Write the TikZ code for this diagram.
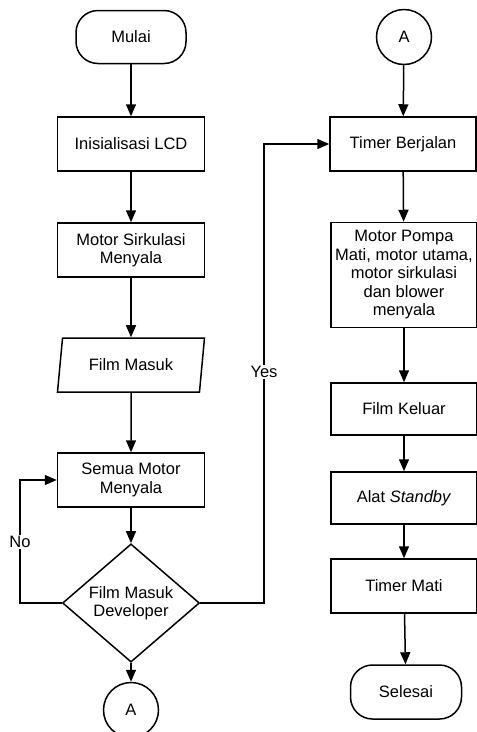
\documentclass[tikz,border=0pt]{standalone}
\usepackage{fontspec}
\setmainfont{Liberation Sans}
\usetikzlibrary{arrows.meta,shapes.geometric}

\begin{document}
\begin{tikzpicture}[x=1pt,y=-1pt,line width=1.5pt,
  font=\fontsize{16.5}{18.5}\selectfont,
  proc/.style={draw,rectangle,minimum width=147pt,minimum height=54pt,align=center,inner sep=2pt},
  term/.style={draw,rectangle,rounded corners=22pt,minimum width=110pt,minimum height=53pt},
  conn/.style={draw,circle,minimum size=55pt,inner sep=0pt},
  io/.style={draw,trapezium,trapezium left angle=75,trapezium right angle=105,
    trapezium stretches body,minimum width=147pt,minimum height=54pt},
  dec/.style={draw,diamond,minimum width=137pt,minimum height=87pt,inner sep=0pt,align=center},
  flow/.style={-{Triangle[length=12pt,width=10pt]}},
  lbl/.style={fill=white,inner sep=1pt}]
  \useasboundingbox (0,0) rectangle (477,732);
  % Left column
  \node[term] (mulai) at (131,37) {Mulai};
  \node[proc] (lcd) at (131,144) {Inisialisasi LCD};
  \node[proc] (sirk) at (131,250) {Motor Sirkulasi\\Menyala};
  \node[io] (masuk) at (131,365) {Film Masuk};
  \node[proc] (semua) at (131,480) {Semua Motor\\Menyala};
  \node[dec] (dev) at (131,603) {Film Masuk\\Developer};
  \node[conn] (conA) at (131,710) {A};
  % Right column
  \node[conn] (conB) at (404,37) {A};
  \node[proc,minimum width=146pt] (timer) at (403,144) {Timer Berjalan};
  \node[proc,minimum width=146pt,minimum height=105pt] (pompa) at (404,275)
    {Motor Pompa\\Mati, motor utama,\\motor sirkulasi\\dan blower\\menyala};
  \node[proc,minimum width=146pt,minimum height=52pt] (keluar) at (404,409) {Film Keluar};
  \node[proc,minimum width=146pt,minimum height=52pt] (standby) at (404,498) {Alat \textit{Standby}};
  \node[proc,minimum width=146pt] (mati) at (404,586) {Timer Mati};
  \node[term,minimum width=111pt,minimum height=54pt] (selesai) at (406,692) {Selesai};
  % Straight connectors
  \draw[flow] (mulai) -- (lcd);
  \draw[flow] (lcd) -- (sirk);
  \draw[flow] (sirk) -- (masuk);
  \draw[flow] (masuk) -- (semua);
  \draw[flow] (semua) -- (dev);
  \draw[flow] (dev) -- (conA);
  \draw[flow] (conB) -- (timer);
  \draw[flow] (timer) -- (pompa);
  \draw[flow] (pompa) -- (keluar);
  \draw[flow] (keluar) -- (standby);
  \draw[flow] (standby) -- (mati);
  \draw[flow] (mati) -- (selesai);
  % Decision branches
  \coordinate (nobend) at (20,603);
  \coordinate (yesbend) at (264,603);
  \draw[flow] (dev.west) -- (nobend) |- (semua.west);
  \draw[flow] (dev.east) -- (yesbend) |- (timer.west);
  \node[lbl] (no) at (20,542) {No};
  \node[lbl] (yes) at (264,372) {Yes};
\end{tikzpicture}
\end{document}
